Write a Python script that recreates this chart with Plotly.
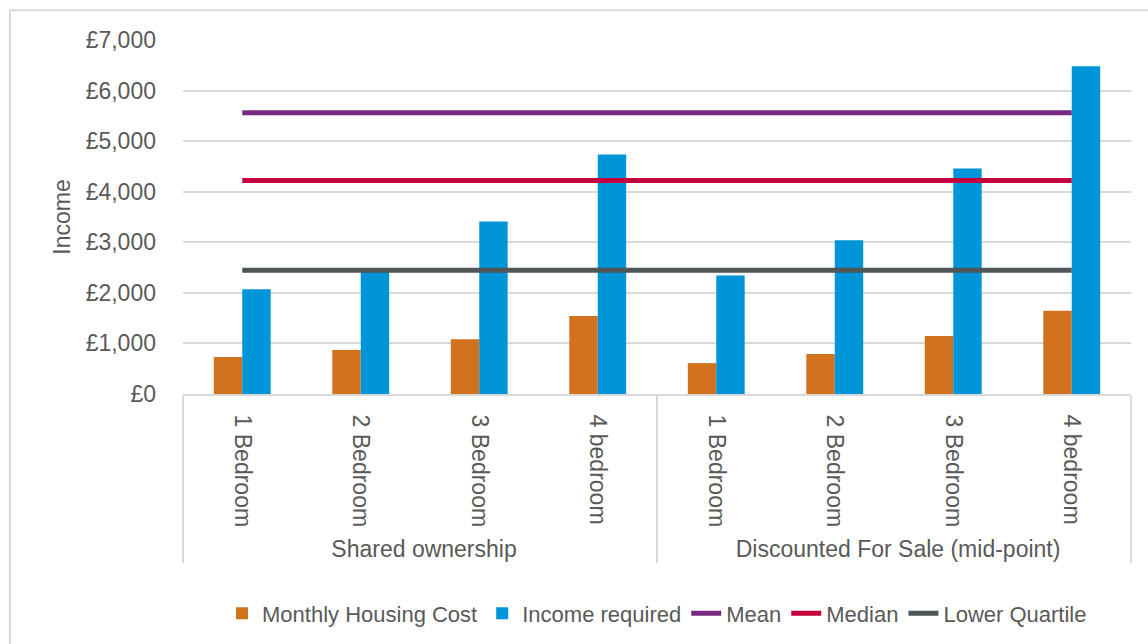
import plotly.graph_objects as go

# Affordability data
groups = ["Shared ownership"] * 4 + ["Discounted For Sale (mid-point)"] * 4
bedrooms = ["1 Bedroom", "2 Bedroom", "3 Bedroom", "4 bedroom",
            "1 Bedroom", "2 Bedroom", "3 Bedroom", "4 bedroom"]
monthly_housing_cost = [730, 870, 1085, 1540, 610, 790, 1145, 1645]
income_required = [2070, 2420, 3410, 4735, 2345, 3040, 4460, 6480]
mean_income = [5560, 5560, 5560, 5560, 5560, 5560, 5560, 5560]
median_income = [4220, 4220, 4220, 4220, 4220, 4220, 4220, 4220]
lower_quartile_income = [2445, 2445, 2445, 2445, 2445, 2445, 2445, 2445]

y_ticks = [0, 1000, 2000, 3000, 4000, 5000, 6000, 7000]
y_tick_labels = ["£0", "£1,000", "£2,000", "£3,000", "£4,000", "£5,000", "£6,000", "£7,000"]

FONT = "Liberation Sans, Arial, sans-serif"
TEXT = "#595959"
GRID = "#d9d9d9"

x = [groups, bedrooms]

fig = go.Figure()
fig.add_trace(go.Bar(x=x, y=monthly_housing_cost, name="Monthly Housing Cost",
                     marker=dict(color="#D2711E", line=dict(width=0))))
fig.add_trace(go.Bar(x=x, y=income_required, name="Income required",
                     marker=dict(color="#0095D8", line=dict(width=0))))
for name, vals, col in [("Mean", mean_income, "#782A82"),
                        ("Median", median_income, "#C3003D"),
                        ("Lower Quartile", lower_quartile_income, "#505558")]:
    fig.add_trace(go.Scatter(x=x, y=vals, name=name, mode="lines",
                             line=dict(color=col, width=5)))

fig.update_layout(
    width=1148, height=644,
    margin=dict(l=183, r=17, t=40, b=250, autoexpand=False),
    paper_bgcolor="white", plot_bgcolor="white",
    font=dict(family=FONT, color=TEXT, size=23),
    barmode="group", bargap=0.52, bargroupgap=0,
    showlegend=True,
    legend=dict(orientation="h", x=0.5, xanchor="center", y=-0.62, yanchor="middle",
                font=dict(size=22, color=TEXT), itemwidth=30, tracegroupgap=0),
    shapes=[dict(type="rect", xref="paper", yref="paper",
                 x0=-0.1825, x1=1.06, y0=-0.9, y1=1.084,
                 line=dict(color=GRID, width=2), layer="below")],
)
fig.update_xaxes(type="multicategory", tickangle=90, showline=True, linecolor=GRID,
                 linewidth=2, showdividers=True, dividercolor=GRID, dividerwidth=2,
                 tickfont=dict(size=23, color=TEXT), showgrid=False,
                 automargin=False, ticklabelstandoff=14)
fig.update_yaxes(range=[0, 7000], tickvals=y_ticks, ticktext=y_tick_labels,
                 showgrid=True, gridcolor=GRID, gridwidth=2, zeroline=False,
                 tickfont=dict(size=23, color=TEXT), ticklabelstandoff=26,
                 automargin=False,
                 title=dict(text="Income", font=dict(size=23, color=TEXT), standoff=8))

fig.write_html("out.html")
